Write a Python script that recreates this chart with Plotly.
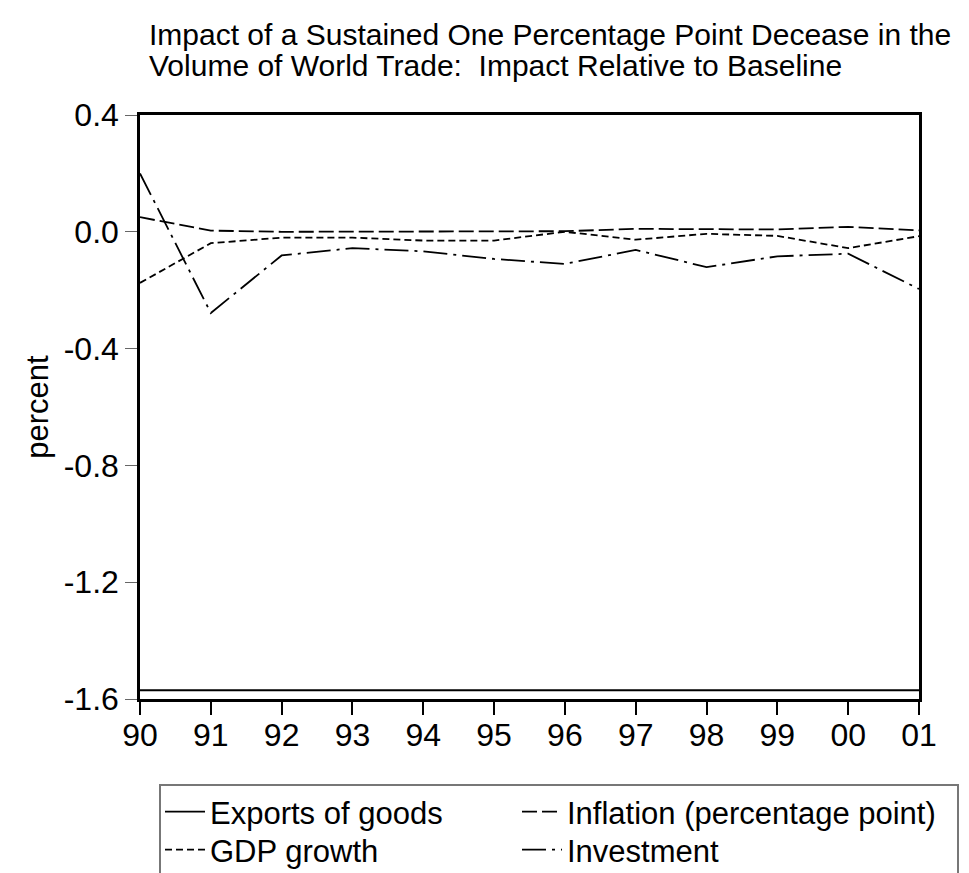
import plotly.graph_objects as go

years = [1990, 1991, 1992, 1993, 1994, 1995, 1996, 1997, 1998, 1999, 2000, 2001]
year_labels = ["90", "91", "92", "93", "94", "95", "96", "97", "98", "99", "00", "01"]

exports = [-1.57, -1.57, -1.57, -1.57, -1.57, -1.57, -1.57, -1.57, -1.57, -1.57, -1.57, -1.57]
inflation = [0.05, 0.004, 0.0, 0.0, 0.0, 0.0, 0.002, 0.01, 0.008, 0.008, 0.017, 0.005]
gdp_growth = [-0.175, -0.039, -0.02, -0.02, -0.03, -0.03, 0.0, -0.027, -0.007, -0.014, -0.056, -0.015]
investment = [0.20, -0.278, -0.081, -0.056, -0.067, -0.093, -0.11, -0.062, -0.121, -0.084, -0.075, -0.196]

y_ticks = [0.4, 0.0, -0.4, -0.8, -1.2, -1.6]

title_lines = [
    "Impact of a Sustained One Percentage Point Decease in the",
    "Volume of World Trade:  Impact Relative to Baseline",
]

FONT = "Liberation Sans, Arial, sans-serif"
OFF = 8  # page body margin
W, H = 969 - OFF, 873 - OFF
ML, MR, MT, MB = 140 - OFF, 50, 115 - OFF, 174


def py(page_y):
    return (H - MB - (page_y - OFF)) / (H - MT - MB)


def pxx(page_x):
    return ((page_x - OFF) - ML) / (W - ML - MR)


fig = go.Figure()
series = [
    ("Exports of goods", exports, "solid", "legend", 160, 812),
    ("Inflation (percentage point)", inflation, "15px,5px", "legend2", 517, 812),
    ("GDP growth", gdp_growth, "7px,4px", "legend3", 160, 850),
    ("Investment", investment, "24px,6px,3px,6px", "legend4", 517, 850),
]
legend_cfg = {}
for name, vals, dash, leg, lx, ly in series:
    fig.add_trace(go.Scatter(
        x=years, y=vals, mode="lines", name=name, legend=leg,
        line=dict(color="black", width=1.8, dash=dash),
    ))
    legend_cfg[leg] = dict(
        x=pxx(lx), xanchor="left", y=py(ly), yanchor="middle",
        font=dict(family=FONT, size=31, color="black"),
        bgcolor="rgba(0,0,0,0)", borderwidth=0, itemwidth=40,
    )

fig.update_layout(
    width=W, height=H,
    margin=dict(l=ML, r=MR, t=MT, b=MB, autoexpand=False),
    paper_bgcolor="white", plot_bgcolor="white",
    font=dict(family=FONT, size=31, color="black"),
    showlegend=True,
    **legend_cfg,
)

for txt, yc in zip(title_lines, [35, 66]):
    fig.add_annotation(
        text=txt, xref="paper", yref="paper",
        x=pxx(147), y=py(yc), xanchor="left", yanchor="middle",
        showarrow=False, font=dict(family=FONT, size=30, color="black"),
    )

fig.update_xaxes(
    range=[1990, 2001],
    tickmode="array", tickvals=years, ticktext=year_labels,
    ticks="outside", ticklen=13, tickwidth=1.5, tickcolor="black",
    showline=True, linecolor="black", linewidth=2.5, mirror=True,
    showgrid=False, zeroline=False,
    ticklabelstandoff=-7,
    tickfont=dict(family=FONT, size=32, color="black"),
)
fig.update_yaxes(
    range=[-1.6, 0.4],
    tickmode="array", tickvals=y_ticks, ticktext=[f"{v:.1f}" for v in y_ticks],
    ticks="outside", ticklen=12, tickwidth=1.2, tickcolor="#666666",
    showline=True, linecolor="black", linewidth=2.5, mirror=True,
    showgrid=False, zeroline=False,
    tickfont=dict(family=FONT, size=32, color="black"),
    title=dict(text="percent", font=dict(family=FONT, size=31, color="black"), standoff=6),
)

# legend frame
fig.add_shape(
    type="rect", xref="paper", yref="paper",
    x0=pxx(160), x1=pxx(958), y0=py(785), y1=py(900),
    line=dict(color="#777777", width=2), fillcolor="rgba(0,0,0,0)",
    layer="above",
)

fig.write_html("out.html")
